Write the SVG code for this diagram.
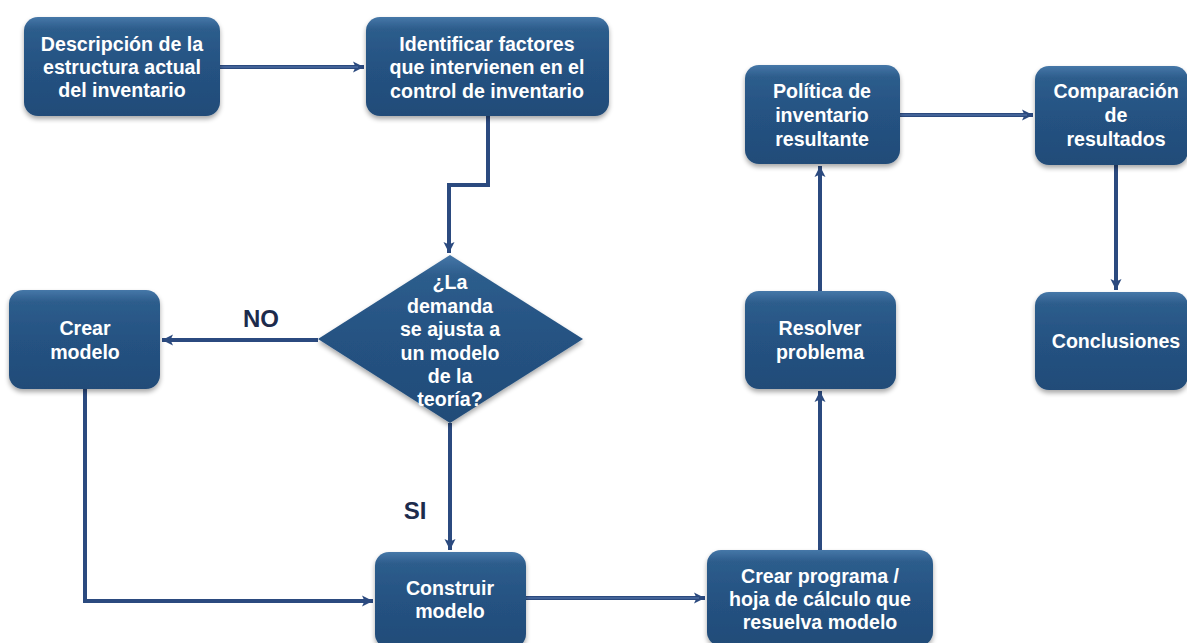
<svg xmlns="http://www.w3.org/2000/svg" xmlns:xlink="http://www.w3.org/1999/xlink" width="1187" height="643" viewBox="0 0 1187 643">
<defs>
<linearGradient id="boxg" x1="0" y1="0" x2="0" y2="1">
<stop offset="0" stop-color="#4677a8"/>
<stop offset="0.12" stop-color="#2d5d8c"/>
<stop offset="0.5" stop-color="#255282"/>
<stop offset="1" stop-color="#224c78"/>
</linearGradient>
<filter id="sh" x="-10%" y="-10%" width="120%" height="125%">
<feGaussianBlur in="SourceAlpha" stdDeviation="2.5"/>
<feOffset dx="0" dy="3" result="b"/>
<feComponentTransfer><feFuncA type="linear" slope="0.35"/></feComponentTransfer>
<feMerge><feMergeNode/><feMergeNode in="SourceGraphic"/></feMerge>
</filter>
<marker id="ah" markerUnits="userSpaceOnUse" markerWidth="14" markerHeight="14" viewBox="0 0 14 14" refX="12" refY="7" orient="auto">
<path d="M1,1.5 L12,7 L1,12.5 L3.5,7 Z" fill="#2b4a7f"/>
</marker>
</defs>
<style>
.box{fill:url(#boxg);filter:url(#sh)}
.t{font-family:"Liberation Sans",Arial,sans-serif;font-weight:bold;font-size:19.6px;fill:#ffffff;text-anchor:middle}
.lbl{font-family:"Liberation Sans",Arial,sans-serif;font-weight:bold;font-size:24px;fill:#1d2b4c;text-anchor:middle}
.c{fill:none;stroke:#2b4a7f;stroke-width:4;stroke-linejoin:miter}
.ci{fill:none;stroke:#5d7cb2;stroke-width:1.2}
</style>
<rect width="1187" height="643" fill="#ffffff"/>
<g id="connectors">
<path id="p1" class="c" d="M220,67 H364" marker-end="url(#ah)"/>
<path id="p2" class="c" d="M488,116 V185 H449 V253" marker-end="url(#ah)"/>
<path id="p3" class="c" d="M318,340 H162" marker-end="url(#ah)"/>
<path id="p4" class="c" d="M450,423 V550" marker-end="url(#ah)"/>
<path id="p5" class="c" d="M85,389 V601 H373" marker-end="url(#ah)"/>
<path id="p6" class="c" d="M526,598 H705" marker-end="url(#ah)"/>
<path id="p7" class="c" d="M820,550 V391" marker-end="url(#ah)"/>
<path id="p8" class="c" d="M820,291 V166" marker-end="url(#ah)"/>
<path id="p9" class="c" d="M900,115 H1033" marker-end="url(#ah)"/>
<path id="p10" class="c" d="M1116,165 V290" marker-end="url(#ah)"/>
<path class="ci" d="M220,67 H358"/>
<path class="ci" d="M526,598 H699"/>
<path class="ci" d="M900,115 H1027"/>
<text class="lbl" x="261" y="327">NO</text>
<text class="lbl" x="415" y="519">SI</text>
</g>
<g id="n1">
<rect class="box" x="24" y="17" width="196" height="99" rx="14"/>
<text class="t" x="122" y="51">Descripción de la</text>
<text class="t" x="122" y="74">estructura actual</text>
<text class="t" x="122" y="97">del inventario</text>
</g>
<g id="n2">
<rect class="box" x="366" y="17" width="243" height="99" rx="14"/>
<text class="t" x="487" y="51">Identificar factores</text>
<text class="t" x="487" y="74">que intervienen en el</text>
<text class="t" x="487" y="98">control de inventario</text>
</g>
<g id="n3">
<path d="M450,255 L583,339 L450,423 L318,339 Z" fill="url(#boxg)" filter="url(#sh)"/>
<text class="t" x="450" y="289">¿La</text>
<text class="t" x="450" y="313">demanda</text>
<text class="t" x="450" y="336">se ajusta a</text>
<text class="t" x="450" y="360">un modelo</text>
<text class="t" x="450" y="383">de la</text>
<text class="t" x="450" y="406">teoría?</text>
</g>
<g id="n4">
<rect class="box" x="9" y="290" width="151" height="99" rx="14"/>
<text class="t" x="85" y="335">Crear</text>
<text class="t" x="85" y="359">modelo</text>
</g>
<g id="n5">
<rect class="box" x="375" y="552" width="151" height="96" rx="14"/>
<text class="t" x="450" y="595">Construir</text>
<text class="t" x="450" y="618">modelo</text>
</g>
<g id="n6">
<rect class="box" x="707" y="550" width="226" height="96" rx="14"/>
<text class="t" x="820" y="583">Crear programa /</text>
<text class="t" x="820" y="606">hoja de cálculo que</text>
<text class="t" x="820" y="629">resuelva modelo</text>
</g>
<g id="n7">
<rect class="box" x="745" y="291" width="151" height="98" rx="14"/>
<text class="t" x="820" y="335">Resolver</text>
<text class="t" x="820" y="359">problema</text>
</g>
<g id="n8">
<rect class="box" x="745" y="65" width="155" height="99" rx="14"/>
<text class="t" x="822" y="98">Política de</text>
<text class="t" x="822" y="122">inventario</text>
<text class="t" x="822" y="146">resultante</text>
</g>
<g id="n9">
<rect class="box" x="1035" y="66" width="153" height="99" rx="14"/>
<text class="t" x="1116" y="98">Comparación</text>
<text class="t" x="1116" y="122">de</text>
<text class="t" x="1116" y="146">resultados</text>
</g>
<g id="n10">
<rect class="box" x="1035" y="292" width="153" height="98" rx="14"/>
<text class="t" x="1116" y="348">Conclusiones</text>
</g>
</svg>
